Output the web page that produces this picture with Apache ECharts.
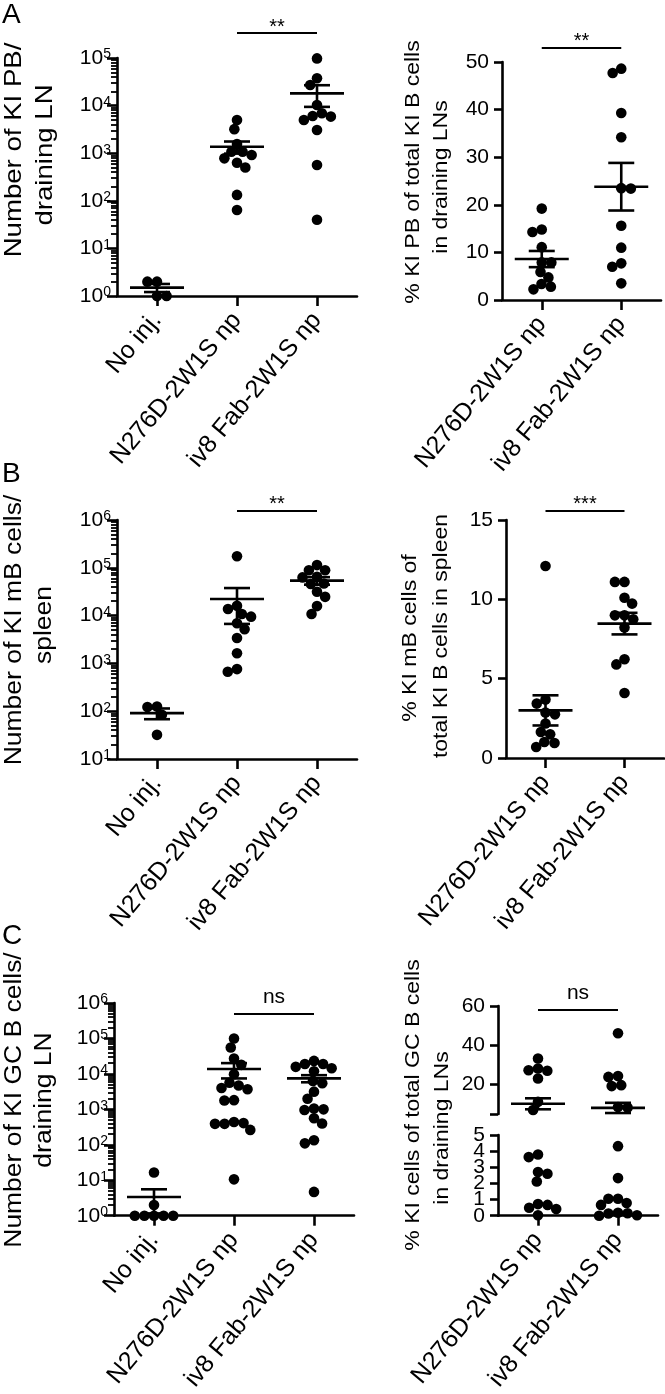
<!DOCTYPE html>
<html><head><meta charset="utf-8">
<script src="https://cdn.jsdelivr.net/npm/echarts@6/dist/echarts.min.js"></script>
<style>html,body{margin:0;padding:0;background:#fff}#c{width:665px;height:1394px}</style>
</head><body><div id="c"></div>
<script>
// ---------- categories ----------
const catsLeft = ['No inj.', 'N276D-2W1S np', 'iv8 Fab-2W1S np'];
const catsRight = ['N276D-2W1S np', 'iv8 Fab-2W1S np'];

// ---------- Panel A ----------
const aLeftNoInj = [2, 2, 1, 1];
const aLeftN276D = [5000, 3200, 1560, 1070, 1070, 915, 780, 630, 500, 133, 64];
const aLeftIv8 = [98000, 37500, 27000, 10300, 6900, 6030, 5870, 5000, 3080, 565, 40];
const aLeftMean = [1.5, 1370, 18100];
const aLeftSem = [0.29, 390, 8700];

const aRightN276D = [19.2, 14.8, 14.3, 11.1, 7.9, 7.9, 5.9, 4.75, 3.35, 2.8, 2.24];
const aRightIv8 = [48.6, 47.7, 39.3, 34.2, 23.5, 23.4, 15.6, 11.0, 7.7, 7.0, 3.5];
const aRightMean = [8.6, 23.8];
const aRightSem = [1.7, 5.0];

// ---------- Panel B ----------
const bLeftNoInj = [125, 122, 84, 32];
const bLeftN276D = [175000, 16100, 13700, 10800, 9500, 6900, 5200, 3400, 1630, 760, 670];
const bLeftIv8 = [114000, 89000, 89000, 65000, 63000, 47000, 45700, 31600, 24700, 15800, 10800];
const bLeftMean = [91, 22200, 54000];
const bLeftSem = [23, 15500, 9700];

const bRightN276D = [12.1, 3.68, 3.43, 2.86, 2.75, 2.17, 1.64, 1.49, 1.01, 0.95, 0.69];
const bRightIv8 = [11.1, 11.1, 10.1, 9.73, 8.99, 8.99, 8.74, 8.22, 6.22, 5.9, 4.1];
const bRightMean = [3.0, 8.47];
const bRightSem = [0.95, 0.68];

// ---------- Panel C ----------
const cLeftNoInj = [16.5, 2, 1, 1, 1, 1, 1];
const cLeftN276D = [100000, 55600, 27000, 18000, 9800, 5650, 4700, 4000, 3700, 1820, 1780, 440, 410, 390, 390, 263, 10.6];
const cLeftIv8 = [23300, 19100, 19100, 15800, 14400, 11800, 6350, 5480, 3160, 1990, 1050, 1000, 960, 560, 400, 134, 110, 4.7];
const cLeftMean = [3.36, 13800, 7500];
const cLeftSem = [2.2, 6350, 1700];

const cRightN276D = [33.3, 28.2, 27.3, 27.0, 23.1, 11.2, 7.0, 3.79, 3.63, 2.71, 2.6, 2.12, 0.72, 0.67, 0.49, 0.41, 0.03];
const cRightIv8 = [46.1, 24.3, 23.9, 19.7, 19.2, 8.6, 8.3, 4.31, 2.33, 1.05, 1.05, 0.79, 0.67, 0.18, 0.15, 0.14, 0.03, 0.0];
const cRightMean = [10.2, 8.1];
const cRightSem = [2.8, 2.6];
const cRightBreak = 5;

// ---------- tick labels ----------
const upperBrokenTicks = [20, 40, 60];
const lowerBrokenTicks = [0, 1, 2, 3, 4, 5];

// ---------- helpers ----------
const FONT = '"Liberation Sans", Arial, sans-serif';
const BLACK = '#000';
function decades(a, b) { const r = []; for (let e = a; e <= b; e++) r.push(Math.pow(10, e)); return r; }
// exponent positions of the 2..9 minor ticks of a log10 axis
function minorExponents(a, b) { const r = []; for (let e = a; e < b; e++) for (let k = 2; k <= 9; k++) r.push(e + Math.log10(k)); return r; }

function swarm(pts, minD) {
  const order = pts.map((p, i) => i).sort((a, b) => pts[a].y - pts[b].y);
  const placed = []; const out = new Array(pts.length); let flip = false;
  order.forEach(i => {
    const p = pts[i]; const cands = [0];
    placed.forEach(q => {
      const dy = Math.abs(q.y - p.y);
      if (dy < minD) { const dx = Math.sqrt(minD * minD - dy * dy); cands.push(q.dx + dx, q.dx - dx); }
    });
    cands.sort((a, b) => (Math.abs(a) - Math.abs(b)) || (flip ? b - a : a - b));
    let chosen = 0;
    for (const c of cands) {
      if (placed.every(q => (q.dx - c) * (q.dx - c) + (q.y - p.y) * (q.y - p.y) >= minD * minD - 0.01)) { chosen = c; break; }
    }
    if (chosen !== 0) flip = !flip;
    placed.push({ dx: chosen, y: p.y }); out[i] = chosen;
  });
  return out;
}

function dotsSeries(gi, groups, means, filter) {
  return {
    type: 'custom', xAxisIndex: gi, yAxisIndex: gi, silent: true, z: 3, clip: false,
    data: groups.map((g, i) => [i, means[i]]),
    renderItem: function (params, api) {
      const idx = params.dataIndex;
      const vals = groups[idx].filter(filter || (() => true));
      const pts = vals.map(v => { const c = api.coord([idx, v]); return { x: c[0], y: c[1] }; });
      const offs = swarm(pts, 9.6);
      return { type: 'group', children: pts.map((p, k) => ({ type: 'circle', shape: { cx: p.x + offs[k], cy: p.y, r: 5.3 }, style: { fill: BLACK } })) };
    }
  };
}

// tick labels of the lower part of the broken axis
function labelSeries(gi, vals, refVal) {
  return {
    type: 'custom', xAxisIndex: gi, yAxisIndex: gi, silent: true, z: 10, clip: false,
    data: [[0, refVal]],
    renderItem: function (params, api) {
      const x0 = api.coord([0, refVal])[0] - api.size([1, refVal])[0] / 2;
      return { type: 'group', children: vals.map(v => ({
        type: 'text', style: { text: String(v), x: x0 - 13, y: api.coord([0, v])[1], align: 'right', verticalAlign: 'middle', fontSize: 21, fontFamily: FONT, fill: BLACK }
      })) };
    }
  };
}

function errSeries(gi, mean, sem) {
  return {
    type: 'custom', xAxisIndex: gi, yAxisIndex: gi, silent: true, z: 4, clip: false,
    data: mean.map((m, i) => [i, m, sem[i]]),
    renderItem: function (params, api) {
      const i = params.dataIndex, m = mean[i], s = sem[i];
      const c = api.coord([i, m]), hi = api.coord([i, m + s]), lo = api.coord([i, m - s]);
      const st = { stroke: BLACK, lineWidth: 2.6 };
      return { type: 'group', children: [
        { type: 'line', shape: { x1: c[0] - 27, y1: c[1], x2: c[0] + 27, y2: c[1] }, style: st },
        { type: 'line', shape: { x1: c[0], y1: hi[1], x2: c[0], y2: lo[1] }, style: st },
        { type: 'line', shape: { x1: c[0] - 13, y1: hi[1], x2: c[0] + 13, y2: hi[1] }, style: st },
        { type: 'line', shape: { x1: c[0] - 13, y1: lo[1], x2: c[0] + 13, y2: lo[1] }, style: st }
      ] };
    }
  };
}

function sigSeries(gi, a, b, yRef, barDy, text, textDy, fs) {
  return {
    type: 'custom', xAxisIndex: gi, yAxisIndex: gi, silent: true, z: 5, clip: false,
    data: [[a, yRef]],
    renderItem: function (params, api) {
      const cs = params.coordSys;
      const xa = api.coord([a, yRef])[0], xb = api.coord([b, yRef])[0];
      return { type: 'group', children: [
        { type: 'line', shape: { x1: xa, y1: cs.y + barDy, x2: xb, y2: cs.y + barDy }, style: { stroke: BLACK, lineWidth: 2.2 } },
        { type: 'text', style: { text: text, x: (xa + xb) / 2, y: cs.y + textDy, align: 'center', verticalAlign: 'middle', fontSize: fs, fontFamily: FONT, fill: BLACK } }
      ] };
    }
  };
}

function catAxis(gi, cats, show) {
  return {
    type: 'category', gridIndex: gi, data: cats, boundaryGap: true, show: show !== false,
    axisLine: { show: true, onZero: false, lineStyle: { color: BLACK, width: 2.6 } },
    axisTick: { show: true, alignWithLabel: true, length: 10, lineStyle: { color: BLACK, width: 2.6 } },
    axisLabel: { show: true, interval: 0, rotate: 50, fontSize: 25, margin: 20, color: BLACK, fontFamily: FONT },
    splitLine: { show: false }
  };
}

function logAxis(gi, minE, maxE) {
  const v = decades(minE, maxE);
  return {
    type: 'log', logBase: 10, gridIndex: gi, position: 'left', splitNumber: maxE - minE,
    min: Math.pow(10, minE), max: Math.pow(10, maxE),
    axisLine: { show: true, lineStyle: { color: BLACK, width: 2.6 } },
    axisTick: { show: true, length: 10, customValues: v, lineStyle: { color: BLACK, width: 2.6 } },
    axisLabel: {
      customValues: v, margin: 6, showMinLabel: true, showMaxLabel: true,
      formatter: val => '{b|10}{s|' + Math.round(Math.log10(val)) + '}',
      rich: { b: { fontSize: 21, fontFamily: FONT, color: BLACK }, s: { fontSize: 14, fontFamily: FONT, color: BLACK, verticalAlign: 'top' } }
    },
    splitLine: { show: false }
  };
}

// companion axis in exponent space that only draws the 2..9 minor ticks of a log axis
function minorTickAxis(gi, minE, maxE) {
  return {
    type: 'value', gridIndex: gi, position: 'left', offset: 0, min: minE, max: maxE, interval: 1,
    axisLine: { show: false },
    axisTick: { show: true, length: 6, customValues: minorExponents(minE, maxE), lineStyle: { color: BLACK, width: 1.8 } },
    axisLabel: { show: false },
    splitLine: { show: false }
  };
}

function linAxis(gi, min, max, interval, showLabels) {
  return {
    type: 'value', gridIndex: gi, position: 'left', min: min, max: max, interval: interval,
    axisLine: { show: true, lineStyle: { color: BLACK, width: 2.6 } },
    axisTick: { show: true, length: 8, lineStyle: { color: BLACK, width: 2.6 } },
    axisLabel: { show: showLabels !== false, showMinLabel: true, showMaxLabel: true, margin: 13, fontSize: 21, fontFamily: FONT, color: BLACK },
    splitLine: { show: false }
  };
}

function brokenUpperAxis(gi, min, max, labelVals) {
  return {
    type: 'value', gridIndex: gi, position: 'left', min: min, max: max,
    axisLine: { show: true, lineStyle: { color: BLACK, width: 2.6 } },
    axisTick: { show: true, length: 8, customValues: [min].concat(labelVals), lineStyle: { color: BLACK, width: 2.6 } },
    axisLabel: { customValues: labelVals, margin: 13, fontSize: 21, fontFamily: FONT, color: BLACK },
    splitLine: { show: false }
  };
}

function title(x, y, text, fs, sc) {
  return { type: 'text', x: x, y: y, rotation: Math.PI / 2, scaleX: sc, silent: true,
    style: { text: text, fontSize: fs, fontFamily: FONT, fill: BLACK, align: 'center', verticalAlign: 'middle' } };
}
function letter(x, y, text) {
  return { type: 'text', x: x, y: y, silent: true, style: { text: text, fontSize: 28, fontFamily: FONT, fill: BLACK, align: 'left', verticalAlign: 'middle' } };
}

// ---------- option ----------
const grids = [
  { left: 117, top: 58, width: 240, height: 238 },   // 0 A left
  { left: 502, top: 62, width: 159, height: 238 },   // 1 A right
  { left: 117, top: 520, width: 240, height: 239 },  // 2 B left
  { left: 506, top: 520, width: 158, height: 238 },  // 3 B right
  { left: 114, top: 1003, width: 240, height: 239 }, // 4 C left
  { left: 498, top: 1006, width: 160, height: 108 }, // 5 C right upper
  { left: 498, top: 1135, width: 160, height: 109 }  // 6 C right lower
];

const option = {
  animation: false,
  textStyle: { fontFamily: FONT, color: BLACK },
  grid: grids.map(g => Object.assign({ containLabel: false }, g)),
  xAxis: [
    catAxis(0, catsLeft), catAxis(1, catsRight), catAxis(2, catsLeft), catAxis(3, catsRight),
    catAxis(4, catsLeft), catAxis(5, catsRight, false), catAxis(6, catsRight)
  ],
  yAxis: [
    logAxis(0, 0, 5),
    linAxis(1, 0, 50, 10),
    logAxis(2, 1, 6),
    linAxis(3, 0, 15, 5),
    logAxis(4, 0, 6),
    brokenUpperAxis(5, cRightBreak, 60, upperBrokenTicks),
    linAxis(6, 0, cRightBreak, 1, false),
    minorTickAxis(0, 0, 5), minorTickAxis(2, 1, 6), minorTickAxis(4, 0, 6)
  ],
  series: [
    dotsSeries(0, [aLeftNoInj, aLeftN276D, aLeftIv8], aLeftMean), errSeries(0, aLeftMean, aLeftSem),
    dotsSeries(1, [aRightN276D, aRightIv8], aRightMean), errSeries(1, aRightMean, aRightSem),
    dotsSeries(2, [bLeftNoInj, bLeftN276D, bLeftIv8], bLeftMean), errSeries(2, bLeftMean, bLeftSem),
    dotsSeries(3, [bRightN276D, bRightIv8], bRightMean), errSeries(3, bRightMean, bRightSem),
    dotsSeries(4, [cLeftNoInj, cLeftN276D, cLeftIv8], cLeftMean), errSeries(4, cLeftMean, cLeftSem),
    dotsSeries(5, [cRightN276D, cRightIv8], cRightMean, v => v > cRightBreak), errSeries(5, cRightMean, cRightSem),
    dotsSeries(6, [cRightN276D, cRightIv8], cRightMean, v => v <= cRightBreak),
    labelSeries(6, lowerBrokenTicks, 1),
    sigSeries(0, 1, 2, 1e5, -25, '**', -31, 20),
    sigSeries(1, 0, 1, 50, -14, '**', -21, 20),
    sigSeries(2, 1, 2, 1e6, -9, '**', -16, 20),
    sigSeries(3, 0, 1, 15, -9, '***', -16, 20),
    sigSeries(4, 1, 2, 1e6, 11, 'ns', -6, 21),
    sigSeries(5, 0, 1, 60, 4, 'ns', -13, 21)
  ],
  graphic: [
    letter(2, 15, 'A'), letter(2, 474, 'B'), letter(2, 936, 'C'),
    title(14, 150, 'Number of KI PB/', 24, 1.15), title(45, 155, 'draining LN', 24, 1.15),
    title(413, 172, '% KI PB of total KI B cells', 20, 1.15), title(441, 177, 'in draining LNs', 20, 1.15),
    title(15, 630, 'Number of KI mB cells/', 23, 1.15), title(45, 625, 'spleen', 23, 1.15),
    title(410, 638, '% KI mB cells of', 20, 1.15), title(441, 636, 'total KI B cells in spleen', 20, 1.15),
    title(15, 1100, 'Number of KI GC B cells/', 23, 1.15), title(45, 1100, 'draining LN', 23, 1.15),
    title(413, 1105, '% KI cells of total GC B cells', 20, 1.15), title(442, 1128, 'in draining LNs', 20, 1.15)
  ]
};

const chart = echarts.init(document.getElementById('c'), null, { renderer: 'canvas' });
chart.setOption(option);
</script>
</body></html>
